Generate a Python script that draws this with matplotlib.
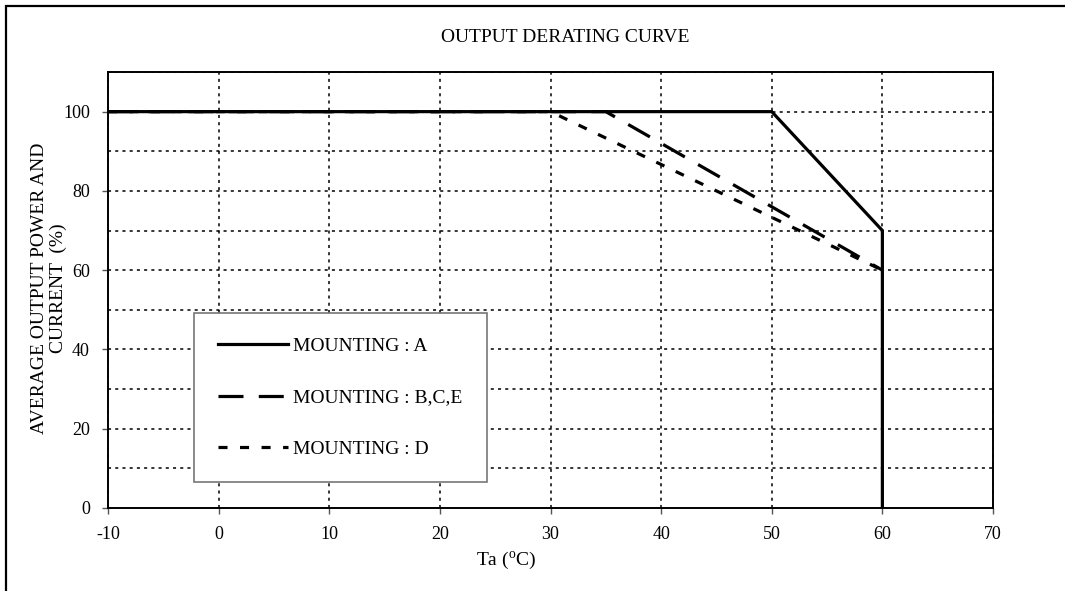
import matplotlib
matplotlib.use('Agg')
import matplotlib.pyplot as plt
from matplotlib.patches import Rectangle

# derating curves, Ta (C) vs output (%)
ta_a = [-10, 50, 60, 60]
out_a = [100, 100, 70, 0]
ta_bce = [-10, 35, 60]
out_bce = [100, 100, 60]
ta_d = [-10, 30, 60]
out_d = [100, 100, 60]

labels = ['MOUNTING : A', 'MOUNTING : B,C,E', 'MOUNTING : D']
xticks = [-10, 0, 10, 20, 30, 40, 50, 60, 70]
yticks = [0, 20, 40, 60, 80, 100]

plt.rcParams['font.family'] = ['Liberation Serif', 'DejaVu Serif']
plt.rcParams['mathtext.fontset'] = 'custom'
plt.rcParams['mathtext.rm'] = 'Liberation Serif'
plt.rcParams['lines.scale_dashes'] = False

W, H = 1065, 591
fig = plt.figure(figsize=(W / 100, H / 100), dpi=100)
ax = fig.add_axes([108 / W, 1 - 508 / H, (993 - 108) / W, (508 - 72) / H])

# outer frame (only left and top edges visible)
fig.add_artist(Rectangle((6 / W, -1), 3, 2 - 6 / H, transform=fig.transFigure,
                         fill=False, lw=1.6, ec='black'))

# grid
for gx in range(-10, 71, 10):
    ax.axvline(gx, color='black', lw=1.1, dashes=(2.2, 3.0), zorder=1)
for gy in range(10, 111, 10):
    ax.axhline(gy, color='black', lw=1.1, dashes=(2.2, 3.0), zorder=1)

l1, = ax.plot(ta_a, out_a, color='black', lw=2.3, solid_joinstyle='miter', zorder=4)
l2, = ax.plot(ta_bce, out_bce, color='black', lw=2.3, dashes=(18, 11), zorder=3)
l3, = ax.plot(ta_d, out_d, color='black', lw=2.3, dashes=(6.5, 9), zorder=3)

ax.set_xlim(-10, 70)
ax.set_ylim(0, 110)
ax.set_xticks(xticks)
ax.set_yticks(yticks)
ax.set_xticklabels([str(v) for v in xticks])
ax.set_yticklabels([str(v) for v in yticks])
ax.tick_params(direction='out', length=4, width=1, color='#555555', labelsize=13, pad=9)
for s in ax.spines.values():
    s.set_linewidth(1.4)
    s.set_color('black')

leg = ax.legend([l1, l2, l3], labels, loc='upper left',
                bbox_to_anchor=((194 - 108) / 885, 1 - (313 - 72) / 436),
                borderaxespad=0, fontsize=14, frameon=True, fancybox=False,
                handlelength=3.6, handletextpad=0.25, labelspacing=1.75, borderpad=1.25)
leg.get_frame().set_edgecolor('#777777')
leg.get_frame().set_linewidth(1.2)
leg.get_frame().set_alpha(1)
leg.set_zorder(5)

fig.text(565 / W, 1 - 38 / H, 'OUTPUT DERATING CURVE', ha='center', va='center', fontsize=14)
fig.text(49 / W, 1 - 288 / H, 'AVERAGE OUTPUT POWER AND\nCURRENT  (%)', rotation=90,
         ha='center', va='center', multialignment='center', fontsize=14, linespacing=1.1)
fig.text(506 / W, 1 - 560 / H, r'Ta ($\mathregular{^o}$C)', ha='center', va='center', fontsize=14)

fig.savefig('out.png', dpi=100)
